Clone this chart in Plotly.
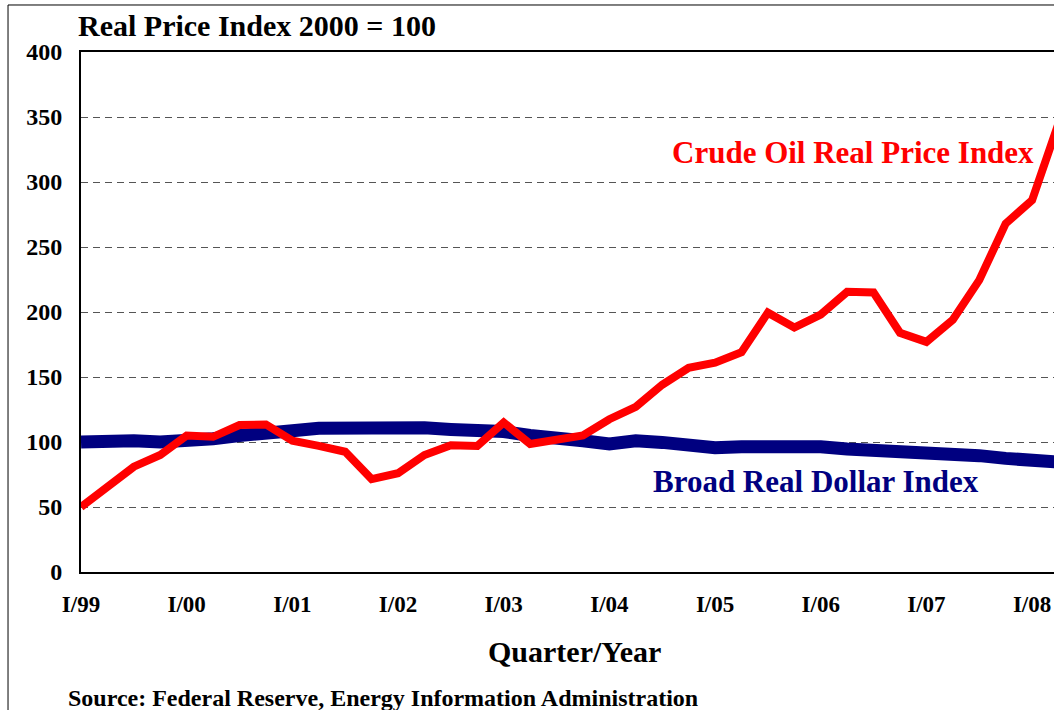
import plotly.graph_objects as go

quarters = [f"{q}/{y:02d}" for y in [99, 0, 1, 2, 3, 4, 5, 6, 7] for q in ["I", "II", "III", "IV"]] + ["I/08", "II/08"]

crude_oil = [50, 66, 81, 90, 105, 104, 113, 113.5, 101, 97, 92.5, 71.5,
             76, 90, 97.5, 97, 115, 98.5, 102, 105, 117.5, 127, 144, 157,
             161, 169, 199.5, 188, 198, 215.5, 215, 184, 177, 194, 224.5, 268,
             286, 345]

broad_dollar = [100, 101.5, 101, 100, 100.5, 102.5, 105, 108, 108.7, 110.5, 110.5, 111.3,
                112.8, 111, 109.7, 110, 108, 105, 104, 101, 98.5, 101, 99.7, 96.4,
                95.6, 96.4, 96.9, 97.4, 96.4, 94.6, 93.8, 93.3, 93, 91.3, 89.5, 87.4,
                86, 84.5]

tick_labels = ["I/99", "I/00", "I/01", "I/02", "I/03", "I/04", "I/05", "I/06", "I/07", "I/08"]
y_ticks = [0, 50, 100, 150, 200, 250, 300, 350, 400]

SERIF = "Liberation Serif, Times New Roman, serif"

fig = go.Figure()
fig.add_trace(go.Scatter(x=quarters, y=broad_dollar, mode="lines",
                         line=dict(color="#000080", width=13),
                         name="Broad Real Dollar Index", showlegend=False))
fig.add_trace(go.Scatter(x=quarters, y=crude_oil, mode="lines",
                         line=dict(color="#FF0000", width=8),
                         name="Crude Oil Real Price Index", showlegend=False))

fig.update_layout(
    width=1054, height=710,
    margin=dict(l=81, r=0, t=52, b=138),
    paper_bgcolor="white", plot_bgcolor="white",
    font=dict(family=SERIF, color="black"),
    showlegend=False,
)

fig.update_xaxes(
    type="category", categoryorder="array", categoryarray=quarters,
    range=[0, 36.83],
    tickmode="array", tickvals=tick_labels,
    ticktext=[f"<b>{t}</b>" for t in tick_labels],
    tickfont=dict(size=23, family=SERIF, color="black"),
    ticks="", ticklabelstandoff=10,
    showgrid=False, zeroline=False,
    showline=True, linecolor="black", linewidth=2, mirror=True,
)
fig.update_yaxes(
    range=[0, 400],
    tickmode="array", tickvals=y_ticks,
    ticktext=[f"<b>{v}</b>" for v in y_ticks],
    tickfont=dict(size=24, family=SERIF, color="black"),
    ticks="", ticklabelstandoff=12,
    showgrid=True, gridcolor="#555555", gridwidth=1, griddash="7px,5px",
    zeroline=False,
    showline=True, linecolor="black", linewidth=2,
)

annotations = [
    dict(text="<b>Real Price Index 2000 = 100</b>", x=-0.004, xanchor="left",
         y=1.052, yanchor="middle", height=26, borderpad=0,
         font=dict(size=30, color="black")),
    dict(text="<b>Crude Oil Real Price Index</b>", x=0.9815, xanchor="right",
         y=0.806, yanchor="middle", font=dict(size=31, color="#FF0000")),
    dict(text="<b>Broad Real Dollar Index</b>", x=0.925, xanchor="right",
         y=0.175, yanchor="middle", font=dict(size=31, color="#000080")),
    dict(text="<b>Quarter/Year</b>", x=0.5067, xanchor="center",
         y=-0.152, yanchor="middle", font=dict(size=30, color="black")),
    dict(text="<b>Source: Federal Reserve, Energy Information Administration</b>",
         x=-0.0154, xanchor="left", y=-0.242, yanchor="middle",
         font=dict(size=24, color="black")),
]
for a in annotations:
    a.update(xref="paper", yref="paper", showarrow=False)
    a["font"]["family"] = SERIF
fig.update_layout(annotations=annotations)

# outer frame (left and top edges of the picture border)
fig.add_shape(type="line", xref="paper", yref="paper", x0=-0.0750, x1=-0.0750,
              y0=-0.4, y1=1.0904, line=dict(color="black", width=1))
fig.add_shape(type="line", xref="paper", yref="paper", x0=-0.0750, x1=1.1,
              y0=1.0904, y1=1.0904, line=dict(color="black", width=1))

# remove the default page margin so the 1054x710 figure fills the window exactly
fig.write_html("out.html",
               config={"displayModeBar": False},
               post_script="document.body.style.margin='0px';document.body.style.overflow='hidden';")
